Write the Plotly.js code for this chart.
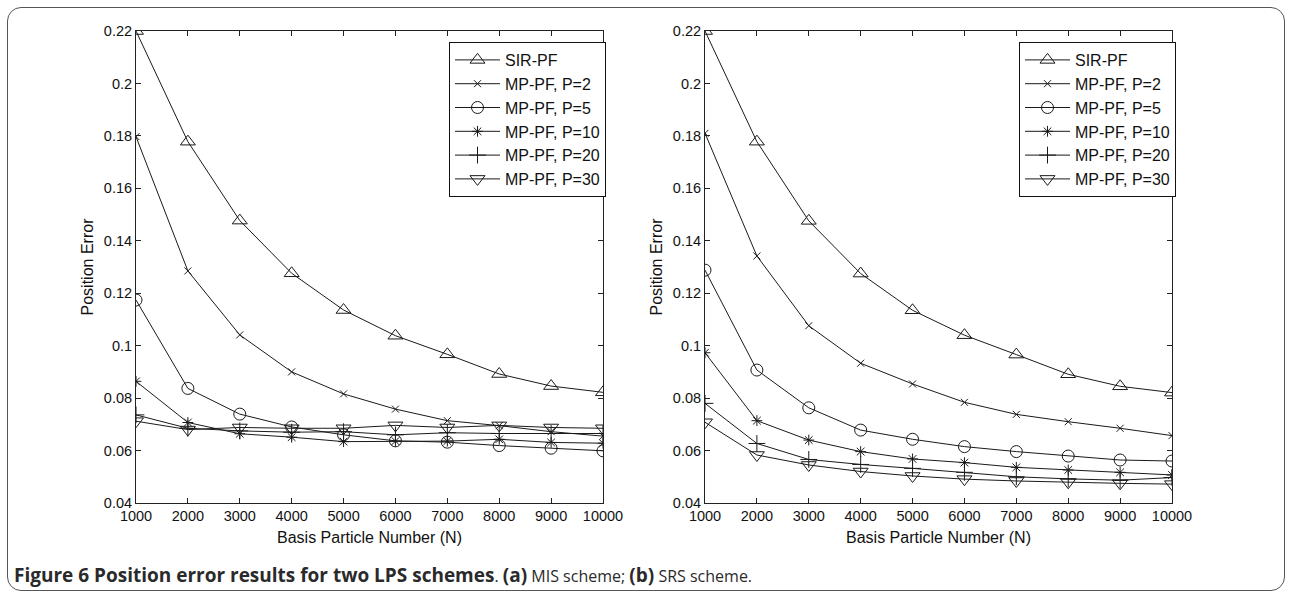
<!DOCTYPE html>
<html>
<head>
<meta charset="utf-8">
<script src="https://cdn.plot.ly/plotly-3.0.1.min.js"></script>
<style>
  html, body { margin: 0; padding: 0; background: #fff; }
  #wrap { position: relative; width: 1292px; height: 598px; }
  #frame { position: absolute; left: 7px; top: 7px; width: 1276px; height: 582px;
           border: 1.5px solid #555; border-radius: 14px; pointer-events: none; }
  #chart { position: absolute; left: 0; top: 0; width: 1292px; height: 598px; }
</style>
</head>
<body>
<div id="wrap">
  <div id="chart"></div>
  <div id="frame"></div>
</div>
<script>
// ---- data ----
const N = [1000, 2000, 3000, 4000, 5000, 6000, 7000, 8000, 9000, 10000];
const xTickLabels = ["1000","2000","3000","4000","5000","6000","7000","8000","9000","10000"];
const yTickVals = [0.04, 0.06, 0.08, 0.1, 0.12, 0.14, 0.16, 0.18, 0.2, 0.22];
const yTickLabels = ["0.04","0.06","0.08","0.1","0.12","0.14","0.16","0.18","0.2","0.22"];
const seriesNames = ["SIR-PF", "MP-PF, P=2", "MP-PF, P=5", "MP-PF, P=10", "MP-PF, P=20", "MP-PF, P=30"];

// (a) MIS scheme
const misSIR = [0.2200, 0.1778, 0.1477, 0.1276, 0.1136, 0.1038, 0.0967, 0.0892, 0.0846, 0.0822];
const misP2  = [0.1797, 0.1285, 0.1041, 0.0900, 0.0816, 0.0758, 0.0714, 0.0695, 0.0672, 0.0655];
const misP5  = [0.1174, 0.0837, 0.0739, 0.0690, 0.0660, 0.0637, 0.0632, 0.0619, 0.0609, 0.0599];
const misP10 = [0.0864, 0.0707, 0.0664, 0.0651, 0.0634, 0.0636, 0.0636, 0.0643, 0.0631, 0.0628];
const misP20 = [0.0736, 0.0685, 0.0675, 0.0670, 0.0672, 0.0660, 0.0668, 0.0665, 0.0665, 0.0665];
const misP30 = [0.0712, 0.0680, 0.0688, 0.0685, 0.0685, 0.0696, 0.0688, 0.0696, 0.0688, 0.0685];

// (b) SRS scheme
const srsSIR = [0.2200, 0.1778, 0.1476, 0.1275, 0.1135, 0.1040, 0.0966, 0.0891, 0.0845, 0.0821];
const srsP2  = [0.1810, 0.1342, 0.1076, 0.0933, 0.0854, 0.0784, 0.0738, 0.0710, 0.0685, 0.0657];
const srsP5  = [0.1288, 0.0907, 0.0763, 0.0678, 0.0643, 0.0615, 0.0596, 0.0579, 0.0564, 0.0560];
const srsP10 = [0.0973, 0.0714, 0.0640, 0.0596, 0.0568, 0.0554, 0.0536, 0.0526, 0.0517, 0.0507];
const srsP20 = [0.0780, 0.0627, 0.0566, 0.0547, 0.0532, 0.0517, 0.0500, 0.0492, 0.0487, 0.0497];
const srsP30 = [0.0708, 0.0583, 0.0545, 0.0520, 0.0503, 0.0491, 0.0484, 0.0479, 0.0475, 0.0472];

// ---- styles ----
const lineColor = "#1a1a1a";
const symbols = ["triangle-up-open", "x-thin-open", "circle-open", "asterisk-open", "cross-thin-open", "triangle-down-open"];
const sizes = [13, 7, 12, 9, 12, 13];

const misData = [misSIR, misP2, misP5, misP10, misP20, misP30];
const srsData = [srsSIR, srsP2, srsP5, srsP10, srsP20, srsP30];

const traces = [];
function addPanel(dataArr, xa, ya, legendId, prefix) {
  dataArr.forEach((ys, i) => {
    traces.push({
      type: "scatter", mode: "lines+markers",
      x: N, y: ys, xaxis: xa, yaxis: ya,
      name: seriesNames[i], legend: legendId, legendgroup: prefix + i,
      line: { color: lineColor, width: 1 },
      marker: { symbol: symbols[i], size: sizes[i], color: lineColor,
                line: { color: lineColor, width: 1 } },
      hoverinfo: "x+y+name"
    });
  });
}
addPanel(misData, "x", "y", "legend", "a");
addPanel(srsData, "x2", "y2", "legend2", "b");

const W = 1292, H = 598;
const px = v => v / W;
const py = v => 1 - v / H;
const font = "Liberation Sans, Arial, sans-serif";

function xAxis(dom, anchor) {
  return {
    domain: dom, anchor: anchor, range: [1000, 10000],
    tickvals: N, ticktext: xTickLabels,
    ticks: "inside", ticklen: 5, tickcolor: "#222",
    showline: true, linecolor: "#222", linewidth: 1, mirror: "ticks",
    showgrid: false, zeroline: false,
    tickfont: { family: font, size: 14.5, color: "#111" },
    title: { text: "Basis Particle Number (N)", font: { family: font, size: 16, color: "#111" }, standoff: 8 }
  };
}
function yAxis(anchor) {
  return {
    domain: [py(503), py(31)], anchor: anchor, range: [0.04, 0.22],
    tickvals: yTickVals, ticktext: yTickLabels,
    ticks: "inside", ticklen: 5, tickcolor: "#222",
    showline: true, linecolor: "#222", linewidth: 1, mirror: "ticks",
    showgrid: false, zeroline: false,
    tickfont: { family: font, size: 14.5, color: "#111" },
    title: { text: "Position Error", font: { family: font, size: 16, color: "#111" }, standoff: 6 }
  };
}
function legendCfg(xLeft) {
  return {
    x: px(xLeft), y: py(42), xanchor: "left", yanchor: "top",
    xref: "paper", yref: "paper",
    bgcolor: "#fff", bordercolor: "#111", borderwidth: 1,
    font: { family: font, size: 16, color: "#111" },
    itemwidth: 45, tracegroupgap: 5, traceorder: "normal"
  };
}

const layout = {
  width: W, height: H,
  margin: { l: 0, r: 0, t: 0, b: 0 },
  paper_bgcolor: "#fff", plot_bgcolor: "#fff",
  showlegend: true,
  xaxis: xAxis([px(136), px(603)], "y"),
  yaxis: yAxis("x"),
  xaxis2: xAxis([px(705), px(1172)], "y2"),
  yaxis2: yAxis("x2"),
  legend: legendCfg(449),
  legend2: legendCfg(1019),
  annotations: [{
    xref: "paper", yref: "paper", x: px(12), y: py(575), xanchor: "left", yanchor: "middle",
    showarrow: false, align: "left",
    text: "<b>Figure 6 Position error results for two LPS schemes</b>" +
          "<span style=\"font-size:16px\">. </span><b>(a)</b>" +
          "<span style=\"font-size:16px\"> MIS scheme; </span><b>(b)</b>" +
          "<span style=\"font-size:16px\"> SRS scheme.</span>",
    font: { family: "Open Sans, Noto Sans, sans-serif", size: 19, color: "#2a2a2a" }
  }]
};

Plotly.newPlot("chart", traces, layout, { displayModeBar: false, staticPlot: true });
</script>
</body>
</html>
